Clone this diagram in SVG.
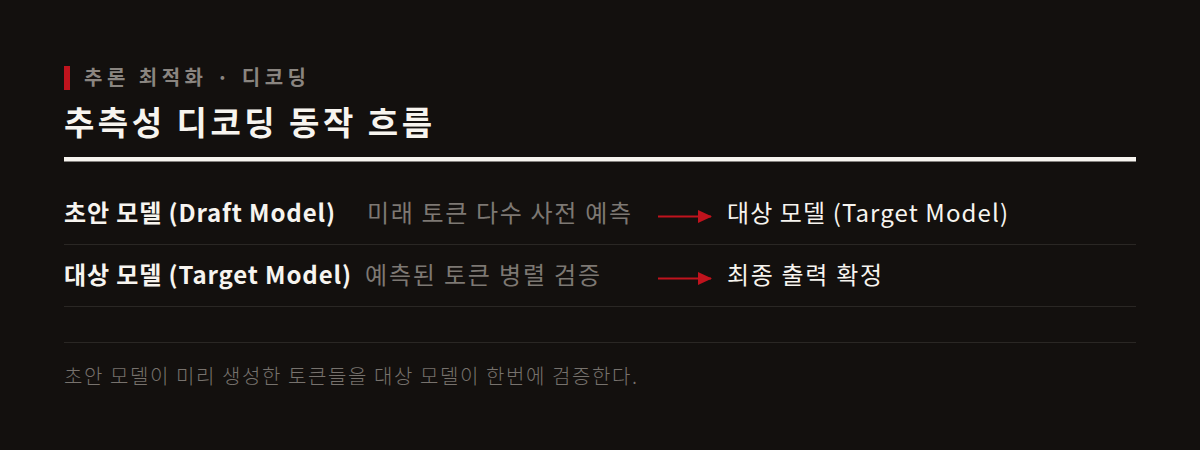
<svg xmlns="http://www.w3.org/2000/svg" width="1200" height="450" viewBox="0 0 1200 450">
<style>
text{font-family:"Noto Sans CJK KR","Noto Sans",sans-serif}
.sub{font-size:20px;font-weight:700;fill:#8a8580}
.title{font-size:33px;font-weight:700;fill:#f7f4ef}
.lbl{font-size:24px;font-weight:700;fill:#f7f4ef}
.desc{font-size:24px;fill:#7d7873}
.res{font-size:24px;fill:#f7f4ef}
.foot{font-size:20px;font-weight:300;fill:#77726d}
.sep{stroke:#2a2724;stroke-width:1}
.arr{stroke:#c0131d;stroke-width:2;fill:none}
</style>
<defs>
<marker id="ah" markerWidth="14" markerHeight="13" refX="13" refY="6.5" orient="auto" markerUnits="userSpaceOnUse">
<path d="M0,0 L14,6.5 L0,13 Z" fill="#c0131d"/>
</marker>
</defs>
<rect width="1200" height="450" fill="#13100e"/>
<g id="header">
<rect x="64" y="66" width="6" height="24" fill="#c0131d"/>
<text class="sub" x="84" y="85" textLength="222" lengthAdjust="spacing">추론 최적화 · 디코딩</text>
<text class="title" x="64" y="135" textLength="368" lengthAdjust="spacing">추측성 디코딩 동작 흐름</text>
<rect x="64" y="157" width="1072" height="4.5" fill="#f7f4ef"/>
</g>
<g id="row1">
<text class="lbl" x="64" y="222" textLength="271" lengthAdjust="spacing">초안 모델 (Draft Model)</text>
<text class="desc" x="367" y="222" textLength="264" lengthAdjust="spacing">미래 토큰 다수 사전 예측</text>
<text class="res" x="727" y="222" textLength="281" lengthAdjust="spacing">대상 모델 (Target Model)</text>
</g>
<g id="row2">
<text class="lbl" x="64" y="284" textLength="287" lengthAdjust="spacing">대상 모델 (Target Model)</text>
<text class="desc" x="365" y="284" textLength="235" lengthAdjust="spacing">예측된 토큰 병렬 검증</text>
<text class="res" x="727" y="284" textLength="155" lengthAdjust="spacing">최종 출력 확정</text>
</g>
<g id="connectors">
<line class="arr" x1="658" y1="216.5" x2="711" y2="216.5" marker-end="url(#ah)"/>
<line class="arr" x1="658" y1="278.5" x2="711" y2="278.5" marker-end="url(#ah)"/>
</g>
<g id="lines">
<line class="sep" x1="64" y1="244.5" x2="1136" y2="244.5"/>
<line class="sep" x1="64" y1="306.5" x2="1136" y2="306.5"/>
<line class="sep" x1="64" y1="342.5" x2="1136" y2="342.5"/>
</g>
<g id="footer">
<text class="foot" x="64" y="384" textLength="573" lengthAdjust="spacing">초안 모델이 미리 생성한 토큰들을 대상 모델이 한번에 검증한다.</text>
</g>
</svg>
